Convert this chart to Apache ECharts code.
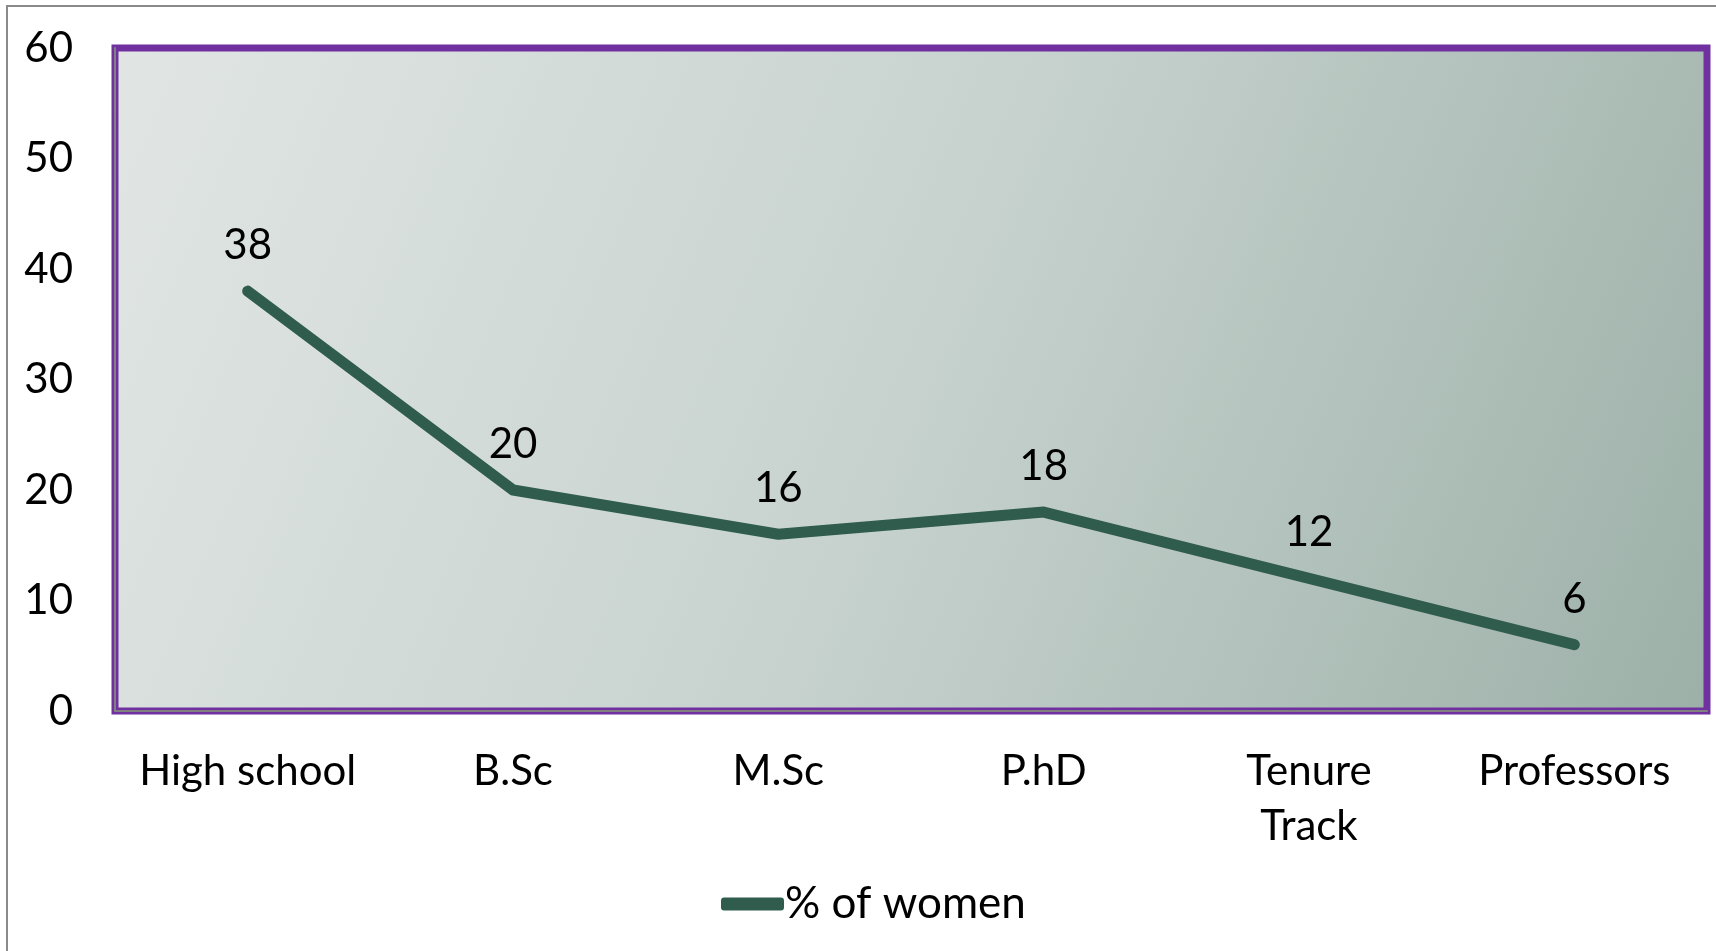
<!DOCTYPE html>
<html>
<head>
<meta charset="utf-8">
<script src="https://cdn.jsdelivr.net/npm/echarts@6/dist/echarts.min.js"></script>
<style>html,body{margin:0;padding:0;background:#fff}#c{width:1716px;height:951px}</style>
</head>
<body>
<div id="c"></div>
<script>
const categories = ['High school', 'B.Sc', 'M.Sc', 'P.hD', 'Tenure\nTrack', 'Professors'];
const womenPct = [38, 20, 16, 18, 12, 6];
const yTicks = [0, 10, 20, 30, 40, 50, 60];
const seriesName = '% of women';

const FONT = 'Lato';
const chart = echarts.init(document.getElementById('c'), null, {renderer: 'canvas'});
chart.setOption({
  animation: false,
  graphic: [{
    type: 'rect', z: -10,
    shape: {x: 7, y: 6, width: 1800, height: 1000},
    style: {fill: 'none', stroke: '#8a8a8a', lineWidth: 2}
  }],
  grid: {
    left: 115, right: 9, top: 48, bottom: 240,
    show: true,
    borderColor: '#7030a0', borderWidth: 7,
    backgroundColor: new echarts.graphic.LinearGradient(0, 0, 1, 1, [
      {offset: 0, color: '#e1e6e4'},
      {offset: 0.5, color: '#c7d2ce'},
      {offset: 1, color: '#9cb0a8'}
    ])
  },
  legend: {
    data: [seriesName],
    bottom: 25, left: 721, padding: 0,
    icon: 'roundRect', itemWidth: 63, itemHeight: 13, itemGap: 0,
    textStyle: {fontFamily: FONT, fontSize: 44, color: '#000', padding: [0, 0, 0, -4]},
    itemStyle: {color: '#2f5c4d'}
  },
  xAxis: {
    type: 'category', data: categories, boundaryGap: true,
    axisLine: {show: true, lineStyle: {color: '#808080', width: 2}},
    axisTick: {show: false},
    axisLabel: {fontFamily: FONT, fontSize: 42, color: '#000', margin: 33, lineHeight: 55, interval: 0}
  },
  yAxis: {
    type: 'value', min: yTicks[0], max: yTicks[yTicks.length - 1], interval: 10,
    axisLine: {show: true, lineStyle: {color: '#808080', width: 2}},
    axisTick: {show: false},
    splitLine: {show: false},
    axisLabel: {fontFamily: FONT, fontSize: 42, color: '#000', margin: 42}
  },
  series: [{
    name: seriesName, type: 'line', data: womenPct,
    symbol: 'circle', symbolSize: 1, showSymbol: true,
    lineStyle: {color: '#2f5c4d', width: 11, cap: 'round', join: 'round'},
    itemStyle: {color: '#2f5c4d'},
    label: {show: true, position: 'top', distance: 24, fontFamily: FONT, fontSize: 42, color: '#000'}
  }]
});
</script>
</body>
</html>
